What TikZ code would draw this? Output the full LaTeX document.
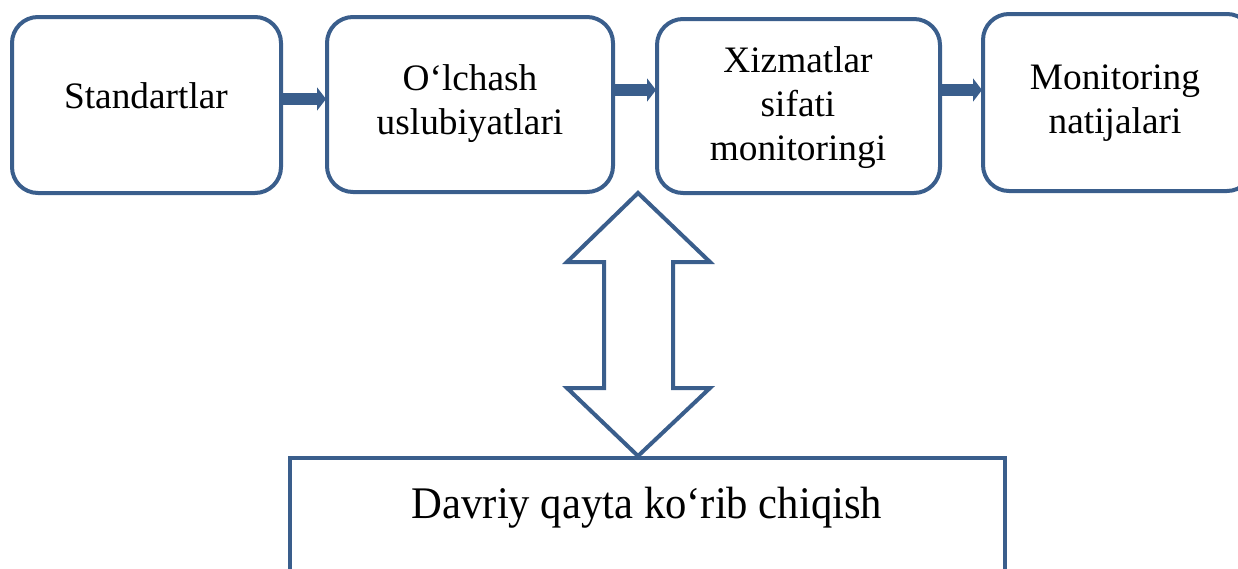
\documentclass[tikz,border=0pt]{standalone}
\usepackage{fontspec}
\setmainfont{Liberation Serif}
\usetikzlibrary{arrows.meta}
\definecolor{frame}{RGB}{58,94,140}
\newdimen\pxu \pxu=0.75pt
\tikzset{
  stage/.style={draw=frame, line width=3pt, rounded corners=19.5pt, fill=white, inner sep=0pt},
  lbl/.style={align=center, font=\fontsize{28pt}{33pt}\selectfont, inner sep=0pt},
  flow/.style={draw=frame, line width=9pt, -{Triangle[length=6.75pt, width=17.25pt]}, shorten >=-0.75pt},
  review/.style={draw=frame, line width=3.3pt, fill=white, inner sep=0pt},
  twoway/.style={draw=frame, line width=3pt, fill=white, line join=miter},
}
\begin{document}
\begin{tikzpicture}[x=0.75pt, y=-0.75pt]
\useasboundingbox (0,0) rectangle (1238,568);
\clip (0,0) rectangle (1238,568);

% process stages
\node[stage, minimum width=269\pxu, minimum height=176\pxu] (b1) at (146.5,105) {};
\node[stage, minimum width=286\pxu, minimum height=175\pxu] (b2) at (470,104.5) {};
\node[stage, minimum width=283\pxu, minimum height=174\pxu] (b3) at (798.5,106) {};
\node[stage, minimum width=270\pxu, minimum height=177\pxu] (b4) at (1118,102.5) {};

\node[lbl] (t1) at (146,96) {Standartlar};
\node[lbl] (t2) at (470,104) {O‘lchash\\uslubiyatlari};
\node[lbl] (t3) at (798,108) {Xizmatlar\\sifati\\monitoringi};
\node[lbl] (t4) at (1115,103) {Monitoring\\natijalari};

% heights of the stage arrows
\coordinate (h1) at (0,99);
\coordinate (h2) at (0,90);

% arrows between stages
\draw[flow] (b1.east |- h1) -- (b2.west |- h1);
\draw[flow] (b2.east |- h2) -- (b3.west |- h2);
\draw[flow] (b3.east |- h2) -- (b4.west |- h2);

% periodic review block
\node[review, minimum width=715\pxu, minimum height=150\pxu] (rv) at (647.5,533) {};
\node[anchor=base, inner sep=0pt, font=\fontsize{32pt}{38pt}\selectfont] (rvt) at (647,518)
  {\scalebox{1}[1.06]{Davriy qayta ko‘rib chiqish}};

% two-way block arrow
\draw[twoway] (638,193) -- (710,262) -- (673,262) -- (673,388) -- (710,388)
  -- (638,456) -- (567,388) -- (604,388) -- (604,262) -- (567,262) -- cycle;
\end{tikzpicture}
\end{document}
